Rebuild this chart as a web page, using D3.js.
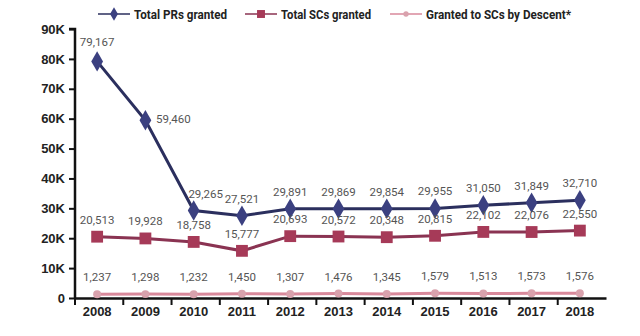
<!DOCTYPE html>
<html>
<head>
<meta charset="utf-8">
<script src="https://cdn.jsdelivr.net/npm/d3@7"></script>
<style>
  body { margin: 0; background: #fff; }
  svg { display: block; font-family: Roboto, "Liberation Sans", sans-serif; }
</style>
</head>
<body>
<svg id="chart" width="640" height="336"></svg>
<script>
const years = ["2008", "2009", "2010", "2011", "2012", "2013", "2014", "2015", "2016", "2017", "2018"];
const prs = [79167, 59460, 29265, 27521, 29891, 29869, 29854, 29955, 31050, 31849, 32710];
const scs = [20513, 19928, 18758, 15777, 20693, 20572, 20348, 20815, 22102, 22076, 22550];
const descent = [1237, 1298, 1232, 1450, 1307, 1476, 1345, 1579, 1513, 1573, 1576];
const yTicks = [0, 10000, 20000, 30000, 40000, 50000, 60000, 70000, 80000, 90000];
const seriesNames = ["Total PRs granted", "Total SCs granted", "Granted to SCs by Descent*"];

const svg = d3.select("#chart");
const margin = { top: 29, right: 34, bottom: 38, left: 75 };
const width = 640 - margin.left - margin.right;
const height = 336 - margin.top - margin.bottom;
const chart = svg.append("g").attr("transform", `translate(${margin.left},${margin.top})`);

const x = d3.scaleBand().domain(years).range([0, width]);
const y = d3.scaleLinear().domain([0, 90000]).range([height, 0]);
const cx = d => x(d) + x.bandwidth() / 2 - 2;

const series = [
  { name: seriesNames[0], values: prs, line: "#2b2f5e", fill: "#3b4080", shape: d3.symbolDiamond, size: 120 },
  { name: seriesNames[1], values: scs, line: "#8a3352", fill: "#a63a58", shape: d3.symbolSquare, size: 140 },
  { name: seriesNames[2], values: descent, line: "#d9899b", fill: "#d9a2ad", shape: d3.symbolCircle, size: 50 }
];

// y axis
const yAxis = chart.append("g")
  .call(d3.axisLeft(y).tickValues(yTicks).tickSize(6).tickPadding(4)
    .tickFormat(d => d === 0 ? "0" : (d / 1000) + "K"));
yAxis.select(".domain").attr("stroke", "#111").attr("stroke-width", 2.5).attr("d", `M-6,0H0V${height}`);
yAxis.selectAll(".tick line").attr("stroke", "#111").attr("stroke-width", 2);
yAxis.selectAll("text").attr("fill", "#222").style("font-size", "13px").style("font-weight", "bold");

// x axis with ticks on band edges
const xAxis = chart.append("g").attr("transform", `translate(0,${height})`)
  .call(d3.axisBottom(x).tickSize(0).tickPadding(9));
xAxis.select(".domain").attr("stroke", "#111").attr("stroke-width", 2.5);
xAxis.selectAll("text").attr("fill", "#222").style("font-size", "13px").style("font-weight", "bold")
  .attr("dx", "-2px");
chart.append("g").selectAll("line")
  .data(years)
  .join("line")
  .attr("x1", d => x(d)).attr("x2", d => x(d))
  .attr("y1", height).attr("y2", height + 7)
  .attr("stroke", "#111").attr("stroke-width", 2);

// lines + markers
const line = d3.line().x((v, i) => cx(years[i])).y(v => y(v));
series.slice().reverse().forEach(s => {
  chart.append("path")
    .datum(s.values)
    .attr("fill", "none")
    .attr("stroke", s.line)
    .attr("stroke-width", 3)
    .attr("d", line);
  chart.append("g").selectAll("path")
    .data(s.values)
    .join("path")
    .attr("transform", (v, i) => `translate(${cx(years[i])},${y(v)})`)
    .attr("d", d3.symbol().type(s.shape).size(s.size))
    .attr("fill", s.fill);
});

// value labels
const fmt = d3.format(",");
const labelOffset = (si, i) => {
  if (si === 0 && i === 0) return [0, -15];
  if (si === 0 && i === 1) return [28, 3];
  if (si === 0 && i === 2) return [12, -13];
  return [0, -13];
};
series.forEach((s, si) => {
  chart.append("g").selectAll("text")
    .data(s.values)
    .join("text")
    .attr("x", (v, i) => cx(years[i]) + labelOffset(si, i)[0])
    .attr("y", (v, i) => y(v) + labelOffset(si, i)[1])
    .attr("text-anchor", "middle")
    .attr("fill", "#555")
    .style("font-size", "11.5px")
    .text(v => fmt(v));
});

// legend
const legendX = [98, 245, 390];
const legendTextLen = [93, 90, 145];
const legend = svg.append("g").attr("transform", "translate(0,14)");
series.forEach((s, i) => {
  const g = legend.append("g").attr("transform", `translate(${legendX[i]},0)`);
  g.append("line").attr("x1", 0).attr("x2", 32).attr("y1", 0).attr("y2", 0)
    .attr("stroke", s.line).attr("stroke-width", 1.5);
  g.append("path").attr("transform", "translate(16,0)")
    .attr("d", d3.symbol().type(s.shape).size(s.size * 0.45))
    .attr("fill", s.fill);
  g.append("text").attr("x", 36).attr("y", 4.5)
    .attr("fill", "#222")
    .attr("textLength", legendTextLen[i])
    .attr("lengthAdjust", "spacingAndGlyphs")
    .style("font-size", "12.5px").style("font-weight", "bold")
    .text(s.name);
});
</script>
</body>
</html>
